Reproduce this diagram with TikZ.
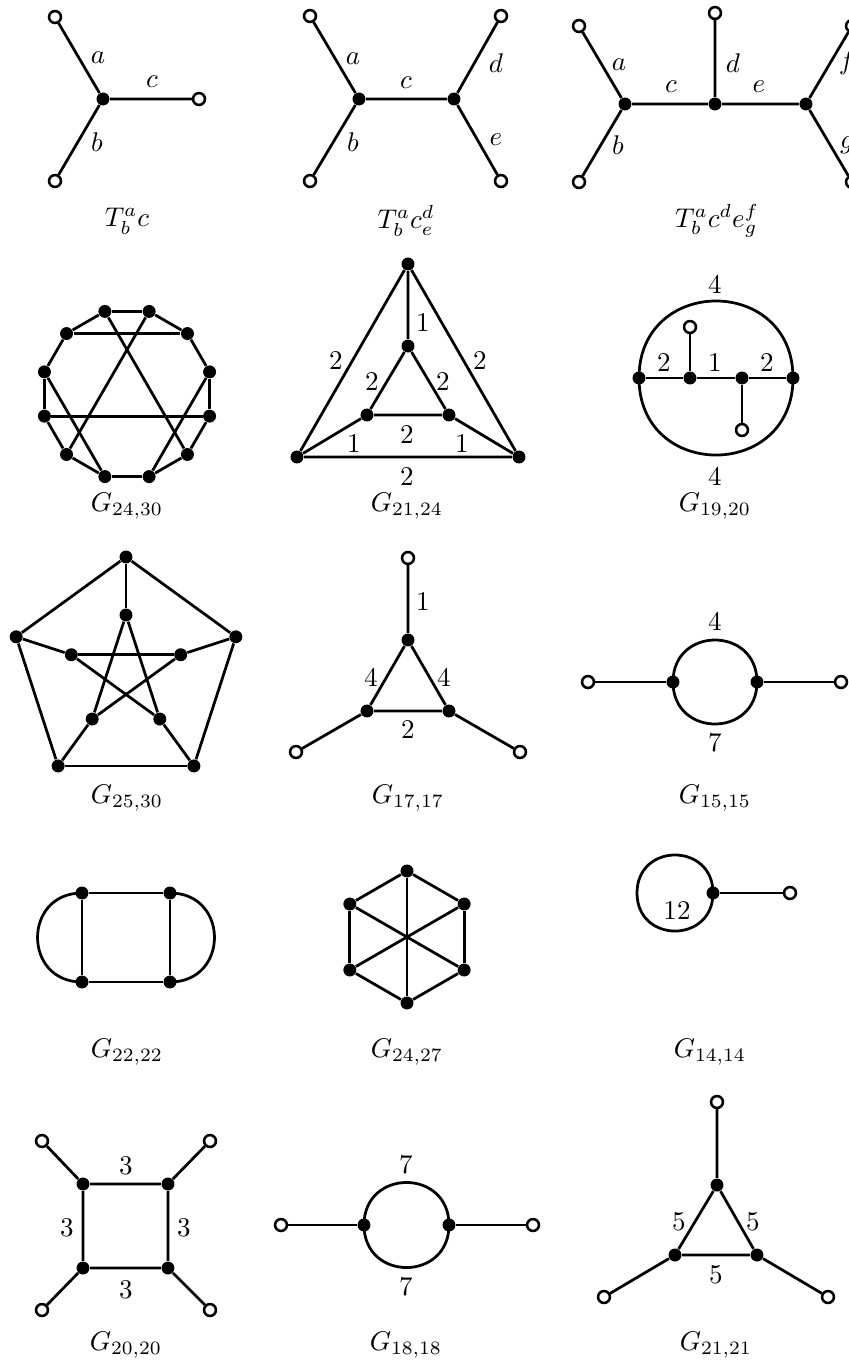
\documentclass[tikz,border=0pt]{standalone}
\tikzset{
  bv/.style={circle,fill=black,inner sep=0pt,minimum size=4.8pt},
  ov/.style={circle,draw=black,fill=white,line width=0.95pt,inner sep=0pt,minimum size=4.4pt},
  ed/.style={line width=1.02pt},
  lb/.style={inner sep=0pt},
  captxt/.style={inner sep=0pt}
}
\begin{document}
\begin{tikzpicture}[x=0.37pt,y=-0.37pt]
\useasboundingbox (0,0) rectangle (849,1364);
\clip (0,0) rectangle (849,1364);

% ---------- T^a_b c ----------
\node[bv] (t1v) at (103,99) {};
\node[ov] (t1a) at (55,17) {};
\node[ov] (t1b) at (55,181) {};
\node[ov] (t1c) at (199,99) {};
\draw[ed] (t1v) -- (t1a) (t1v) -- (t1b) (t1v) -- (t1c);
\node[lb] (t1la) at (98,58) {$a$};
\node[lb] (t1lb) at (97,142) {$b$};
\node[lb] (t1lc) at (152,82) {$c$};
\node[captxt] (t1cap) at (127,221) {$T^a_b c$};

% ---------- T^a_b c^d_e ----------
\node[bv] (t2v) at (359,99) {};
\node[bv] (t2w) at (454,99) {};
\node[ov] (t2a) at (310,16) {};
\node[ov] (t2b) at (310,181) {};
\node[ov] (t2d) at (501,16) {};
\node[ov] (t2e) at (501,181) {};
\draw[ed] (t2v) -- (t2a) (t2v) -- (t2b) (t2v) -- (t2w) (t2w) -- (t2d) (t2w) -- (t2e);
\node[lb] (t2la) at (353,59) {$a$};
\node[lb] (t2lb) at (353,142) {$b$};
\node[lb] (t2lc) at (406,83) {$c$};
\node[lb] (t2ld) at (496,63) {$d$};
\node[lb] (t2le) at (496,140) {$e$};
\node[captxt] (t2cap) at (406,221) {$T^a_b c^d_e$};

% ---------- T^a_b c^d e^f_g ----------
\node[bv] (t3u) at (625,104) {};
\node[bv] (t3v) at (715,104) {};
\node[bv] (t3w) at (806,104) {};
\node[ov] (t3a) at (579,26) {};
\node[ov] (t3b) at (579,182) {};
\node[ov] (t3d) at (715,13) {};
\node[ov] (t3f) at (852,26) {};
\node[ov] (t3g) at (852,182) {};
\draw[ed] (t3u) -- (t3a) (t3u) -- (t3b) (t3u) -- (t3v) (t3v) -- (t3d) (t3v) -- (t3w) (t3w) -- (t3f) (t3w) -- (t3g);
\node[lb] (t3la) at (619,65) {$a$};
\node[lb] (t3lb) at (618,145) {$b$};
\node[lb] (t3lc) at (671,87) {$c$};
\node[lb] (t3ld) at (733,63) {$d$};
\node[lb] (t3le) at (759,87) {$e$};
\node[lb] (t3lf) at (847,63) {$f$};
\node[lb] (t3lg) at (847,145) {$g$};
\node[captxt] (t3cap) at (717,221) {$T^a_b c^d e^f_g$};

% ---------- G_{24,30} ----------
\foreach \a in {15,45,...,345}
  \node[bv] (p\a) at ({127+85.5*cos(\a)},{394-85.5*sin(\a)}) {};
\foreach \a/\b in {15/45,45/75,75/105,105/135,135/165,165/195,195/225,225/255,255/285,285/315,315/345,345/15,135/45,195/345,105/315,75/225,165/255,15/285}
  \draw[ed] (p\a) -- (p\b);
\node[captxt] (c2430) at (127,506) {$G_{24,30}$};

% ---------- G_{21,24} ----------
\node[bv] (uT) at (408,264) {};
\node[bv] (uIT) at (408,346) {};
\node[bv] (uIL) at (367,415) {};
\node[bv] (uIR) at (449,415) {};
\node[bv] (uOL) at (297,457) {};
\node[bv] (uOR) at (519,457) {};
\draw[ed] (uT) -- (uIT) (uT) -- (uOL) (uT) -- (uOR) (uOL) -- (uOR)
  (uIT) -- (uIL) (uIT) -- (uIR) (uIL) -- (uIR) (uIL) -- (uOL) (uIR) -- (uOR);
\node[lb] (ul1) at (423,323) {$1$};
\node[lb] (ul2) at (336,361) {$2$};
\node[lb] (ul3) at (480,361) {$2$};
\node[lb] (ul4) at (372,382) {$2$};
\node[lb] (ul5) at (443,382) {$2$};
\node[lb] (ul6) at (407,435) {$2$};
\node[lb] (ul7) at (354,444) {$1$};
\node[lb] (ul8) at (462,444) {$1$};
\node[lb] (ul9) at (407,477) {$2$};
\node[captxt] (c2124) at (407,506) {$G_{21,24}$};

% ---------- G_{19,20} ----------
\node[bv] (wL) at (639,378) {};
\node[bv] (wR) at (793,378) {};
\node[bv] (wA) at (690,378) {};
\node[bv] (wB) at (742,378) {};
\node[ov] (woA) at (690,327) {};
\node[ov] (woB) at (742,430) {};
\draw[ed] (wL.center) .. controls +(0,-102.7) and +(0,-102.7) .. (wR.center);
\draw[ed] (wL.center) .. controls +(0,102.7) and +(0,102.7) .. (wR.center);
\draw[ed] (wL) -- (wA) (wA) -- (wB) (wB) -- (wR) (wA) -- (woA) (wB) -- (woB);
\node[lb] (wl1) at (715,285) {$4$};
\node[lb] (wl2) at (664,363) {$2$};
\node[lb] (wl3) at (715,363) {$1$};
\node[lb] (wl4) at (767,363) {$2$};
\node[lb] (wl5) at (715,477) {$4$};
\node[captxt] (c1920) at (715,506) {$G_{19,20}$};

% ---------- G_{25,30} (Petersen) ----------
\foreach \a in {90,18,306,234,162} {
  \node[bv] (q\a) at ({126+115.5*cos(\a)},{672.5-115.5*sin(\a)}) {};
  \node[bv] (r\a) at ({126+57.5*cos(\a)},{672.5-57.5*sin(\a)}) {};
}
\foreach \a/\b in {90/18,18/306,306/234,234/162,162/90}
  \draw[ed] (q\a) -- (q\b);
\foreach \a in {90,18,306,234,162}
  \draw[ed] (q\a) -- (r\a);
\foreach \a/\b in {90/306,90/234,18/234,18/162,306/162}
  \draw[ed] (r\a) -- (r\b);
\node[captxt] (c2530) at (127,798) {$G_{25,30}$};

% ---------- G_{17,17} ----------
\node[ov] (xoT) at (408,558) {};
\node[bv] (xT) at (408,640) {};
\node[bv] (xL) at (367,711) {};
\node[bv] (xR) at (449,711) {};
\node[ov] (xoL) at (296,752) {};
\node[ov] (xoR) at (520,752) {};
\draw[ed] (xoT) -- (xT) (xT) -- (xL) (xT) -- (xR) (xL) -- (xR) (xL) -- (xoL) (xR) -- (xoR);
\node[lb] (xl1) at (423,602) {$1$};
\node[lb] (xl2) at (371,678) {$4$};
\node[lb] (xl3) at (444,678) {$4$};
\node[lb] (xl4) at (408,730) {$2$};
\node[captxt] (c1717) at (408,798) {$G_{17,17}$};

% ---------- G_{15,15} ----------
\node[ov] (yoL) at (588,682) {};
\node[bv] (yL) at (673,682) {};
\node[bv] (yR) at (757,682) {};
\node[ov] (yoR) at (841,682) {};
\draw[ed] (yL.center) .. controls +(0,-56) and +(0,-56) .. (yR.center);
\draw[ed] (yL.center) .. controls +(0,56) and +(0,56) .. (yR.center);
\draw[ed] (yoL) -- (yL) (yR) -- (yoR);
\node[lb] (yl1) at (715,622) {$4$};
\node[lb] (yl2) at (715,743) {$7$};
\node[captxt] (c1515) at (715,798) {$G_{15,15}$};

% ---------- G_{22,22} ----------
\node[bv] (zA) at (82,893) {};
\node[bv] (zB) at (170,893) {};
\node[bv] (zC) at (82,982) {};
\node[bv] (zD) at (170,982) {};
\draw[ed] (zA) -- (zB) (zC) -- (zD) (zA) -- (zC) (zB) -- (zD);
\draw[ed] (zA.center) .. controls +(-59.3,0) and +(-59.3,0) .. (zC.center);
\draw[ed] (zB.center) .. controls +(59.3,0) and +(59.3,0) .. (zD.center);
\node[captxt] (c2222) at (127,1052) {$G_{22,22}$};

% ---------- G_{24,27} ----------
\foreach \a in {90,30,330,270,210,150}
  \node[bv] (h\a) at ({407+66*cos(\a)},{937-66*sin(\a)}) {};
\foreach \a/\b in {90/30,30/330,330/270,270/210,210/150,150/90,90/270,30/210,330/150}
  \draw[ed] (h\a) -- (h\b);
\node[captxt] (c2427) at (407,1052) {$G_{24,27}$};

% ---------- G_{14,14} ----------
\node[bv] (lA) at (713,893) {};
\node[ov] (lO) at (790,893) {};
\coordinate (lW) at (637,893);
\draw[ed] (lA.center) .. controls +(0,-50.7) and +(0,-50.7) .. (lW) .. controls +(0,50.7) and +(0,50.7) .. (lA.center);
\draw[ed] (lA) -- (lO);
\node[lb] (ll1) at (677,911) {$12$};
\node[captxt] (c1414) at (710,1052) {$G_{14,14}$};

% ---------- G_{20,20} ----------
\node[bv] (mA) at (83,1184) {};
\node[bv] (mB) at (168,1184) {};
\node[bv] (mC) at (83,1268) {};
\node[bv] (mD) at (168,1268) {};
\node[ov] (moA) at (42,1141) {};
\node[ov] (moB) at (210,1141) {};
\node[ov] (moC) at (42,1310) {};
\node[ov] (moD) at (210,1310) {};
\draw[ed] (mA) -- (mB) (mB) -- (mD) (mD) -- (mC) (mC) -- (mA)
  (mA) -- (moA) (mB) -- (moB) (mC) -- (moC) (mD) -- (moD);
\node[lb] (ml1) at (126,1166) {$3$};
\node[lb] (ml2) at (67,1228) {$3$};
\node[lb] (ml3) at (184,1228) {$3$};
\node[lb] (ml4) at (126,1290) {$3$};
\node[captxt] (c2020) at (126,1345) {$G_{20,20}$};

% ---------- G_{18,18} ----------
\node[ov] (noL) at (281,1225) {};
\node[bv] (nL) at (364,1225) {};
\node[bv] (nR) at (449,1225) {};
\node[ov] (noR) at (533,1225) {};
\draw[ed] (nL.center) .. controls +(0,-56.7) and +(0,-56.7) .. (nR.center);
\draw[ed] (nL.center) .. controls +(0,56.7) and +(0,56.7) .. (nR.center);
\draw[ed] (noL) -- (nL) (nR) -- (noR);
\node[lb] (nl1) at (406,1165) {$7$};
\node[lb] (nl2) at (406,1287) {$7$};
\node[captxt] (c1818) at (406,1345) {$G_{18,18}$};

% ---------- G_{21,21} ----------
\node[ov] (koT) at (717,1102) {};
\node[bv] (kT) at (717,1185) {};
\node[bv] (kL) at (675,1255) {};
\node[bv] (kR) at (757,1255) {};
\node[ov] (koL) at (604,1297) {};
\node[ov] (koR) at (828,1297) {};
\draw[ed] (koT) -- (kT) (kT) -- (kL) (kT) -- (kR) (kL) -- (kR) (kL) -- (koL) (kR) -- (koR);
\node[lb] (kl1) at (679,1222) {$5$};
\node[lb] (kl2) at (753,1222) {$5$};
\node[lb] (kl3) at (716,1275) {$5$};
\node[captxt] (c2121) at (716,1345) {$G_{21,21}$};
\end{tikzpicture}
\end{document}
